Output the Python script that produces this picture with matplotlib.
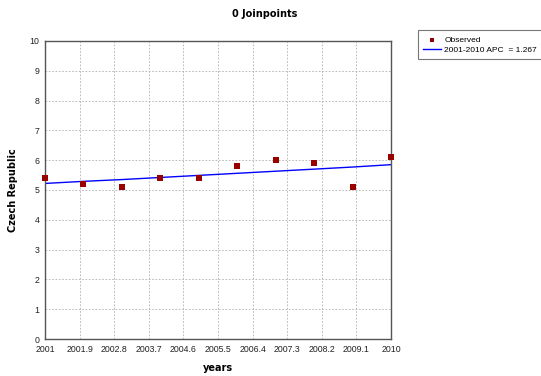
import numpy as np
import matplotlib.pyplot as plt

years = [2001, 2002, 2003, 2004, 2005, 2006, 2007, 2008, 2009, 2010]
observed = [5.4, 5.2, 5.1, 5.4, 5.4, 5.8, 6.0, 5.9, 5.1, 6.1]
fitted = [5.22, 5.29, 5.35, 5.42, 5.49, 5.56, 5.63, 5.70, 5.77, 5.85]
xticks = [2001, 2001.9, 2002.8, 2003.7, 2004.6, 2005.5, 2006.4, 2007.3, 2008.2, 2009.1, 2010]
xlabels = ["2001", "2001.9", "2002.8", "2003.7", "2004.6", "2005.5", "2006.4",
           "2007.3", "2008.2", "2009.1", "2010"]

plt.rcParams['font.family'] = ['Liberation Sans', 'DejaVu Sans']
fig = plt.figure(figsize=(5.41, 3.76), dpi=100)
ax = fig.add_axes([0.0832, 0.0984, 0.6395, 0.7926])

ax.plot(years, fitted, color='#0000ff', lw=1, label='2001-2010 APC  = 1.267')
ax.scatter(years, observed, marker='s', s=14, color='#990000', zorder=3,
           label='Observed', clip_on=False, linewidths=0)

ax.set_xlim(2001, 2010)
ax.set_ylim(0, 10)
ax.set_xticks(xticks)
ax.set_xticklabels(xlabels)
ax.set_yticks(range(0, 11))
ax.grid(True, ls=(0, (2, 2)), color='#b0b0b0', lw=0.6)
ax.tick_params(labelsize=6.3, length=0, pad=4, colors='#222222')
for s in ax.spines.values():
    s.set_color('#555555')
    s.set_linewidth(1)

bold = dict(family='DejaVu Sans', fontsize=7, fontweight='bold')
ax.set_xlabel('years', labelpad=7, **bold)
ax.set_ylabel('Czech Republic', labelpad=8, **bold)
fig.text(0.49, 0.962, '0 Joinpoints', ha='center', va='center', **bold)

h, l = ax.get_legend_handles_labels()
leg = fig.legend([h[1], h[0]], [l[1], l[0]], loc='upper left',
                 bbox_to_anchor=(0.772, 0.80, 0.24, 0.12), mode='expand',
                 fontsize=6, frameon=True,
                 fancybox=False, edgecolor='#555555', handlelength=2.1,
                 borderpad=0.7, labelspacing=0.25, handletextpad=0.4,
                 borderaxespad=0, markerscale=0.8)
leg.get_frame().set_linewidth(0.8)

fig.savefig('out.png', dpi=100)
